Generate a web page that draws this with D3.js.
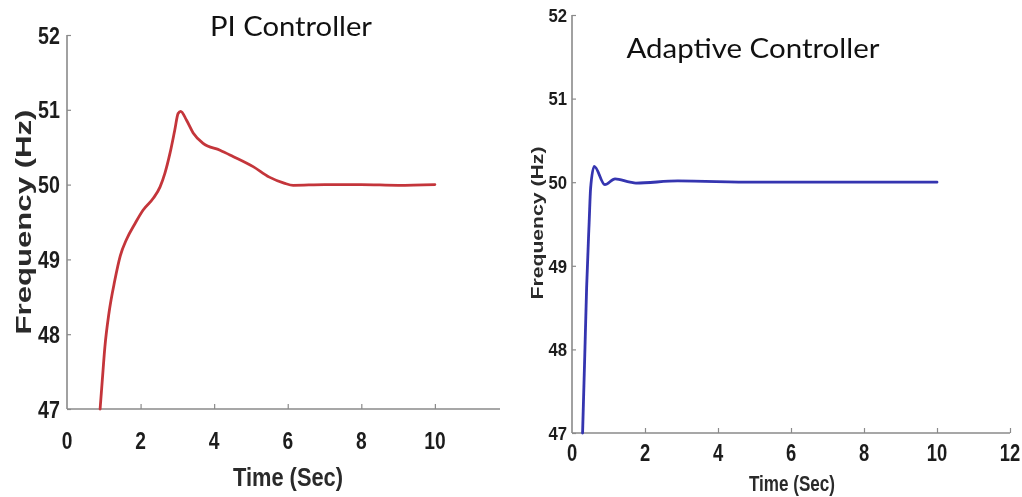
<!DOCTYPE html>
<html>
<head>
<meta charset="utf-8">
<script src="https://cdn.jsdelivr.net/npm/d3@7"></script>
<style>
  html, body { margin: 0; padding: 0; background: #fff; }
  svg { display: block; }
  .tick-label { font-family: "Liberation Sans", Arial, sans-serif; font-weight: bold; fill: #1e1e1e; }
  .axis-title { font-family: "Liberation Sans", Arial, sans-serif; font-weight: bold; fill: #2a2a2a; }
  .chart-title { font-family: Lato, "Open Sans", sans-serif; fill: #111; }
</style>
</head>
<body>
<svg id="chart" width="1022" height="497"></svg>
<script>
// Frequency response of the PI controller
const piTime = [0.90, 0.96, 1.03, 1.14, 1.30, 1.45, 1.62, 1.85, 2.07, 2.35, 2.53, 2.66, 2.80, 2.93, 3.02, 3.09, 3.25, 3.43, 3.70, 4.16, 4.50, 5.06, 5.50, 5.90, 6.15, 7.0, 8.0, 9.0, 10.0];
const piFreq = [47.00, 47.39, 47.83, 48.28, 48.72, 49.05, 49.27, 49.48, 49.66, 49.82, 49.97, 50.15, 50.42, 50.73, 50.95, 50.98, 50.86, 50.69, 50.55, 50.46, 50.38, 50.24, 50.10, 50.02, 49.99, 50.00, 50.00, 49.99, 50.00];

// Frequency response of the adaptive controller
const adTime = [0.29, 0.35, 0.40, 0.47, 0.51, 0.61, 0.90, 1.18, 1.59, 1.75, 2.9, 5.0, 7.0, 10.0];
const adFreq = [47.00, 47.93, 48.73, 49.52, 49.93, 50.19, 49.97, 50.04, 50.00, 49.99, 50.015, 50.00, 50.00, 50.00];

const freqTicks = [47, 48, 49, 50, 51, 52];
const piTimeTicks = [0, 2, 4, 6, 8, 10];
const adTimeTicks = [0, 2, 4, 6, 8, 10, 12];

const titles = ["PI Controller", "Adaptive Controller"];
const xTitle = "Time (Sec)";
const yTitle = "Frequency (Hz)";

const svg = d3.select("#chart");

const defs = svg.append("defs");
defs.append("filter").attr("id", "soft")
  .append("feGaussianBlur").attr("stdDeviation", 0.45);

// condensed bold label: horizontal squeeze around its anchor
function label(g, x, y, text, size, squeeze, anchor) {
  g.append("g")
    .attr("transform", `translate(${x},${y}) scale(${squeeze},1)`)
    .append("text")
    .attr("class", "tick-label")
    .attr("dy", "0.36em")
    .attr("text-anchor", anchor)
    .attr("font-size", size)
    .text(text);
}

function panel(cfg) {
  const g = svg.append("g").attr("filter", "url(#soft)");
  const x = d3.scaleLinear().domain(cfg.xDomain).range(cfg.xRange);
  const y = d3.scaleLinear().domain([47, 52]).range(cfg.yRange);

  // y axis
  const ya = g.append("g")
    .attr("transform", `translate(${cfg.xRange[0]},0)`)
    .call(d3.axisRight(y).tickValues(freqTicks).tickSize(4).tickFormat(""));
  ya.select(".domain").attr("stroke", "#8a8a8a").attr("stroke-width", 1.6)
    .attr("d", `M0,${cfg.yRange[1]}V${cfg.yRange[0]}`);
  ya.selectAll(".tick line").attr("stroke", "#8a8a8a").attr("stroke-width", 1.2);

  freqTicks.forEach(d =>
    label(g, cfg.xRange[0] - cfg.yLabelGap, y(d), d, cfg.yTickSize, cfg.yTickSqueeze, "end"));

  // x axis
  const xa = g.append("g")
    .attr("transform", `translate(0,${cfg.yRange[0]})`)
    .call(d3.axisTop(x).tickValues(cfg.xTicks).tickSize(5).tickFormat(""));
  xa.select(".domain").attr("stroke", "#8a8a8a").attr("stroke-width", 1.6)
    .attr("d", `M${cfg.xRange[0]},0H${cfg.xRange[1]}`);
  xa.selectAll(".tick line").attr("stroke", "#8a8a8a").attr("stroke-width", 1.2);
  xa.selectAll(".tick").filter(d => d === 0).select("line").remove();

  cfg.xTicks.forEach(d =>
    label(g, x(d), cfg.xLabelY, d, cfg.xTickSize, cfg.xTickSqueeze, "middle"));

  // axis titles
  g.append("text").attr("class", "axis-title")
    .attr("x", cfg.xTitlePos[0]).attr("y", cfg.xTitlePos[1])
    .attr("dy", "0.36em").attr("text-anchor", "middle")
    .attr("font-size", cfg.xTitleSize)
    .attr("textLength", cfg.xTitleLen).attr("lengthAdjust", "spacingAndGlyphs")
    .text(xTitle);

  g.append("text").attr("class", "axis-title")
    .attr("transform", `translate(${cfg.yTitlePos[0]},${cfg.yTitlePos[1]}) rotate(-90)`)
    .attr("dy", "0.36em").attr("text-anchor", "middle")
    .attr("font-size", cfg.yTitleSize)
    .attr("textLength", cfg.yTitleLen).attr("lengthAdjust", "spacingAndGlyphs")
    .text(yTitle);

  // response curve
  const line = d3.line()
    .x((d, i) => x(cfg.t[i]))
    .y(d => y(d))
    .curve(d3.curveMonotoneX);
  g.append("path")
    .attr("d", line(cfg.f))
    .attr("fill", "none")
    .attr("stroke", cfg.color)
    .attr("stroke-width", 2.8)
    .attr("stroke-linejoin", "round")
    .attr("stroke-linecap", "round");

  // title
  svg.append("text").attr("class", "chart-title")
    .attr("x", cfg.titlePos[0]).attr("y", cfg.titlePos[1])
    .attr("dy", "0.36em").attr("text-anchor", "middle")
    .attr("font-size", cfg.titleSize)
    .attr("textLength", cfg.titleLen).attr("lengthAdjust", "spacingAndGlyphs")
    .text(cfg.title);
}

panel({
  t: piTime, f: piFreq, color: "#c4363a",
  xDomain: [0, 11.77], xRange: [67, 500], yRange: [409, 35],
  xTicks: piTimeTicks,
  yLabelGap: 7, yTickSize: 24, yTickSqueeze: 0.82,
  xTickSize: 24, xTickSqueeze: 0.8, xLabelY: 440,
  xTitlePos: [288, 477], xTitleSize: 26, xTitleLen: 110,
  yTitlePos: [23, 222], yTitleSize: 22, yTitleLen: 225,
  title: titles[0], titlePos: [291, 27], titleSize: 26, titleLen: 162
});

panel({
  t: adTime, f: adFreq, color: "#3434b0",
  xDomain: [0, 12], xRange: [572, 1010], yRange: [433, 15],
  xTicks: adTimeTicks,
  yLabelGap: 5, yTickSize: 19, yTickSqueeze: 0.88,
  xTickSize: 23, xTickSqueeze: 0.8, xLabelY: 453,
  xTitlePos: [792, 483], xTitleSize: 22, xTitleLen: 86,
  yTitlePos: [537, 223], yTitleSize: 17, yTitleLen: 153,
  title: titles[1], titlePos: [753, 49], titleSize: 26, titleLen: 253
});
</script>
</body>
</html>
